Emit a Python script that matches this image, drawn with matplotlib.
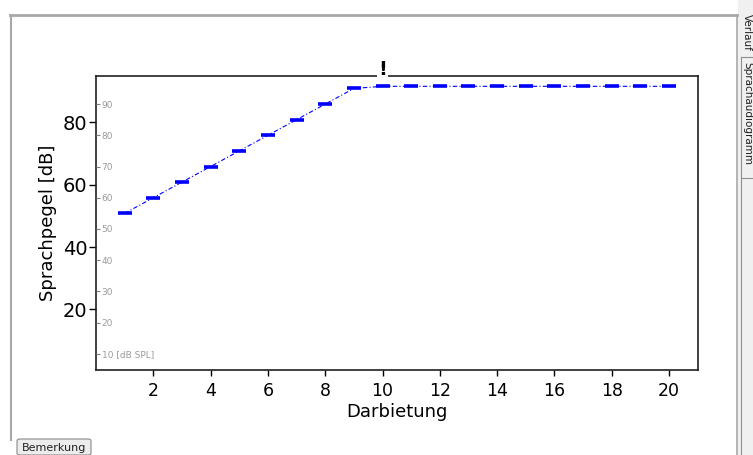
import matplotlib
matplotlib.use("Agg")
import matplotlib.pyplot as plt
from matplotlib.patches import Rectangle, FancyBboxPatch
from matplotlib.lines import Line2D
import matplotlib.transforms as mtransforms

# Darbietung (presentation number) and speech level in dB (left axis scale)
darbietung = list(range(1, 21))
sprachpegel = [50.8, 55.8, 60.8, 65.8, 70.8, 75.8, 80.8, 85.8, 90.8,
               91.5, 91.5, 91.5, 91.5, 91.5, 91.5, 91.5, 91.5, 91.5, 91.5, 91.5]
x_ticks = [2, 4, 6, 8, 10, 12, 14, 16, 18, 20]
y_ticks = [20, 40, 60, 80]
spl_ticks = [10, 20, 30, 40, 50, 60, 70, 80, 90]
spl_offset = 4.2   # dB SPL scale shown inside the plot
warn_at = 10       # "!" marker above the plot

W, H = 753, 455
fig = plt.figure(figsize=(W / 100, H / 100), dpi=100)
fig.patch.set_facecolor("white")

def px(x, y):
    # pixel coords (from top-left) -> figure fraction
    return x / W, 1 - y / H

# ---- surrounding UI frame ----
fig.add_artist(Rectangle(px(738, H), 15 / W, 1, transform=fig.transFigure,
                         facecolor="#f0f0f0", edgecolor="none"))
fig.add_artist(Line2D([px(10, 0)[0], px(737, 0)[0]], [px(0, 15)[1]] * 2,
                      transform=fig.transFigure, color="#a8a8a8", lw=2))
fig.add_artist(Line2D([px(11, 0)[0]] * 2, [px(0, 15)[1], px(0, 440)[1]],
                      transform=fig.transFigure, color="#a8a8a8", lw=1.5))
fig.add_artist(Line2D([px(737, 0)[0]] * 2, [px(0, 15)[1], 0],
                      transform=fig.transFigure, color="#a8a8a8", lw=1.2))
# tabs on the right
fig.add_artist(Line2D([px(741, 0)[0]] * 2, [px(0, 57)[1], 0],
                      transform=fig.transFigure, color="#909090", lw=0.8))
fig.add_artist(Line2D([px(741, 0)[0], 1], [px(0, 57)[1]] * 2,
                      transform=fig.transFigure, color="#909090", lw=0.8))
fig.add_artist(Line2D([px(741, 0)[0], 1], [px(0, 178)[1]] * 2,
                      transform=fig.transFigure, color="#909090", lw=0.8))
fig.text(*px(747, 14), "Verlauf", rotation=270, ha="center", va="top",
         fontsize=7.5, color="#202020")
fig.text(*px(747, 62), "Sprachaudiogramm", rotation=270, ha="center", va="top",
         fontsize=7.5, color="#202020")
# button bottom-left
fig.add_artist(FancyBboxPatch(px(17, 455), 74 / W, 16 / H, transform=fig.transFigure,
                              boxstyle="round,pad=0,rounding_size=0.004",
                              facecolor="#ececec", edgecolor="#8a8a8a", lw=0.8))
fig.text(*px(54, 448), "Bemerkung", ha="center", va="center", fontsize=8, color="#202020")

# ---- chart ----
ax = fig.add_axes([96 / W, 1 - 370 / H, (697.7 - 96) / W, (370 - 76) / H])
ax.plot(darbietung, sprachpegel, color="blue", lw=0.8, ls=(0, (4, 2, 1, 2)),
        marker="_", ms=9.5, mew=2.6, mec="blue")
ax.set_xlim(0, 21)
ax.set_ylim(0.6, 94.8)
ax.set_xticks(x_ticks)
ax.set_yticks(y_ticks)
ax.tick_params(axis="y", labelsize=14, length=5, width=1, pad=1)
ax.tick_params(axis="x", labelsize=12.5, length=4, width=1, pad=5)
ax.set_xlabel("Darbietung", fontsize=13, labelpad=2)
ax.set_ylabel("Sprachpegel [dB]", fontsize=13, labelpad=4)
for s in ax.spines.values():
    s.set_linewidth(1.2)
    s.set_color("#202020")

# inner dB SPL scale along the left spine
ax2 = ax.twinx()
ax2.set_ylim(ax.get_ylim()[0] + spl_offset, ax.get_ylim()[1] + spl_offset)
ax2.spines["right"].set_position(("axes", 0))
for s in ax2.spines.values():
    s.set_visible(False)
ax2.set_yticks(spl_ticks)
ax2.set_yticklabels([str(t) + (" [dB SPL]" if t == 10 else "") for t in spl_ticks])
ax2.tick_params(axis="y", direction="out", length=3, width=0.8, color="#808080",
                labelcolor="#9a9a9a", labelsize=6.5, pad=1)

trans = mtransforms.blended_transform_factory(ax.transData, ax.transAxes)
ax.text(warn_at, 1.022, "!", transform=trans, ha="center", va="center", fontsize=14,
        fontweight="semibold", color="black", clip_on=False,
        bbox=dict(facecolor="white", edgecolor="none", pad=0.5))

fig.savefig("out.png", dpi=100)
